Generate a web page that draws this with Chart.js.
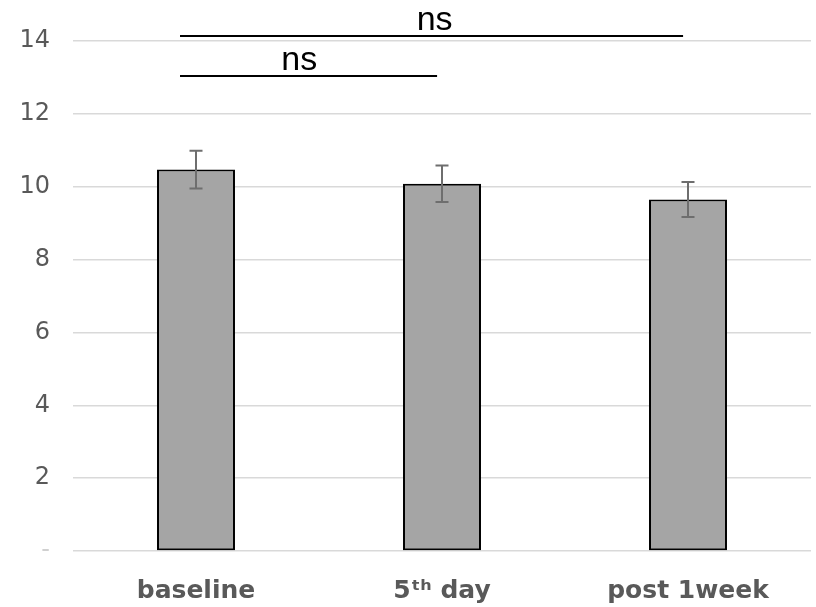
<!DOCTYPE html>
<html>
<head>
<meta charset="utf-8">
<script src="https://cdn.jsdelivr.net/npm/chart.js@4"></script>
<style>
  html, body { margin: 0; padding: 0; background: #fff; }
  #wrap { width: 816px; height: 607px; }
</style>
</head>
<body>
<div id="wrap"><canvas id="myChart" width="816" height="607"></canvas></div>
<script>
// group means and standard errors
const categories = ["baseline", "5\u1D57\u02B0 day", "post 1week"];
const means = [10.47, 10.08, 9.65];
const errors = [0.52, 0.5, 0.48];
const yTicks = [0, 2, 4, 6, 8, 10, 12, 14];

// significance brackets: [from index, to index, label]
const sigPairs = [[0, 2], [0, 1]];
const sigLabels = ["ns", "ns"];

// draws the error bars on top of each bar
const errorBars = {
  id: "errorBars",
  afterDatasetsDraw(chart) {
    const ctx = chart.ctx;
    const y = chart.scales.y;
    const meta = chart.getDatasetMeta(0);
    ctx.save();
    ctx.strokeStyle = "#6e6e6e";
    ctx.lineWidth = 2;
    meta.data.forEach(function (bar, i) {
      const top = y.getPixelForValue(means[i] + errors[i]);
      const bot = y.getPixelForValue(means[i] - errors[i]);
      ctx.beginPath();
      ctx.moveTo(bar.x, top);
      ctx.lineTo(bar.x, bot);
      ctx.moveTo(bar.x - 6.5, top);
      ctx.lineTo(bar.x + 6.5, top);
      ctx.moveTo(bar.x - 6.5, bot);
      ctx.lineTo(bar.x + 6.5, bot);
      ctx.stroke();
    });
    ctx.restore();
  },
};

// "ns" lines above the bars
const brackets = {
  id: "brackets",
  afterDraw(chart) {
    const ctx = chart.ctx;
    const x = chart.scales.x;
    const y = chart.scales.y;
    const levels = [14.15, 13.04];
    const textPos = [0.97, 0.42];
    ctx.save();
    ctx.strokeStyle = "#000";
    ctx.fillStyle = "#000";
    ctx.lineWidth = 2;
    ctx.font = "34px 'Liberation Sans', Arial, sans-serif";
    ctx.textAlign = "center";
    ctx.textBaseline = "alphabetic";
    sigPairs.forEach(function (p, i) {
      const x0 = x.getPixelForValue(p[0] - 0.065);
      const x1 = x.getPixelForValue(p[1] - 0.02);
      const ly = Math.round(y.getPixelForValue(levels[i]));
      ctx.beginPath();
      ctx.moveTo(x0, ly);
      ctx.lineTo(x1, ly);
      ctx.stroke();
      ctx.fillText(sigLabels[i], x.getPixelForValue(textPos[i]), ly - 6);
    });
    ctx.restore();
  },
};

const ctx = document.getElementById("myChart").getContext("2d");
new Chart(ctx, {
  type: "bar",
  data: {
    labels: categories,
    datasets: [
      {
        data: means,
        backgroundColor: "#a5a5a5",
        borderColor: "#000",
        borderWidth: 2,
        borderSkipped: false,
        categoryPercentage: 1,
        barPercentage: 0.317,
      },
    ],
  },
  options: {
    responsive: false,
    animation: false,
    layout: { padding: { top: 41, right: 5, left: 0, bottom: 0 } },
    plugins: {
      legend: { display: false },
      tooltip: { enabled: false },
    },
    scales: {
      x: {
        grid: { display: false, drawTicks: false },
        border: { display: false },
        ticks: {
          color: "#595959",
          padding: 25,
          maxRotation: 0,
          font: { family: "'DejaVu Sans', Verdana, sans-serif", size: 25, weight: "bold" },
        },
        afterFit: function (scale) { scale.height = 56; },
      },
      y: {
        min: 0,
        max: 14,
        afterBuildTicks: function (scale) {
          scale.ticks = yTicks.map(function (v) { return { value: v }; });
        },
        grid: { color: "#d9d9d9", lineWidth: 1.5, drawTicks: false },
        border: { display: false },
        ticks: {
          padding: 23,
          color: function (c) { return c.tick && c.tick.value === 0 ? "#d0d0d0" : "#595959"; },
          font: { family: "'DejaVu Sans', Verdana, sans-serif", size: 24 },
          callback: function (v) { return v === 0 ? "-" : v; },
        },
        afterFit: function (scale) { scale.width = 73; },
      },
    },
  },
  plugins: [errorBars, brackets],
});
</script>
</body>
</html>
